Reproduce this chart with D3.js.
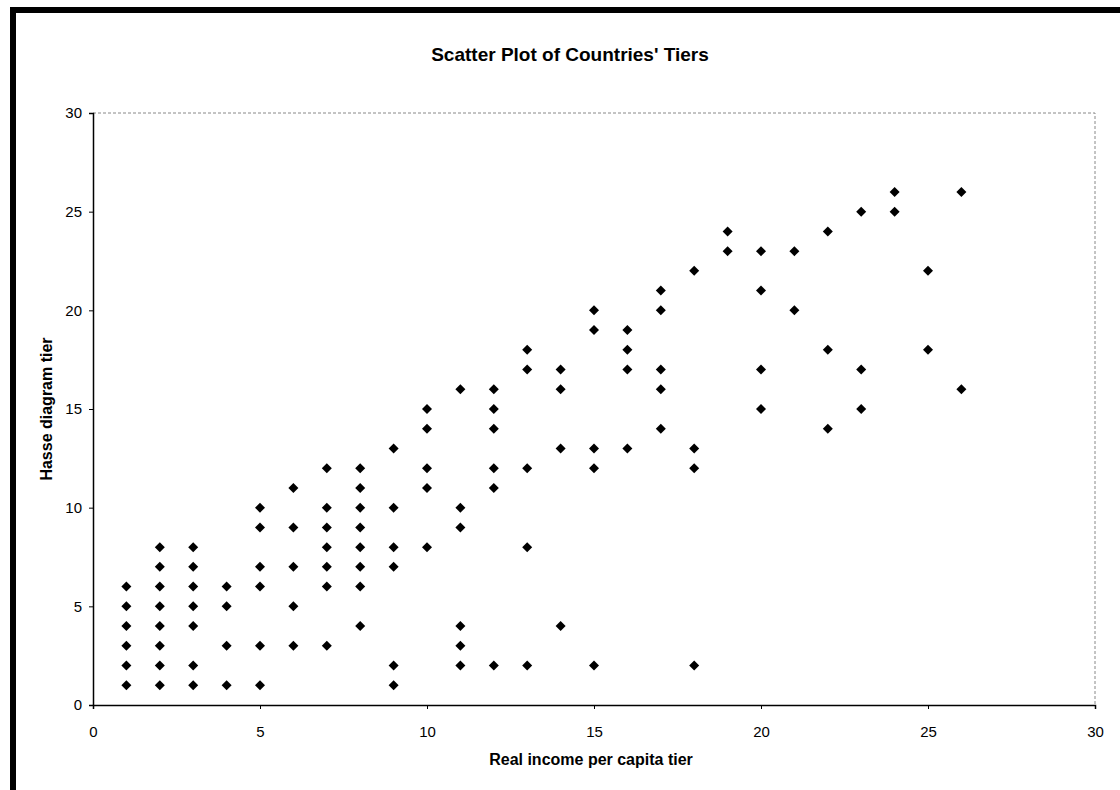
<!DOCTYPE html>
<html>
<head>
<meta charset="utf-8">
<script src="https://cdn.jsdelivr.net/npm/d3@7"></script>
<style>
  body { margin: 0; background: #fff; }
  svg { display: block; }
</style>
</head>
<body>
<svg width="1120" height="790"></svg>
<script>
// chart data (x = income tier, y = Hasse tier)
var incomeTier = [
  1, 1, 1, 1, 1, 1,
  2, 2, 2, 2, 2, 2, 2, 2,
  3, 3, 3, 3, 3, 3, 3,
  4, 4, 4, 4,
  5, 5, 5, 5, 5, 5,
  6, 6, 6, 6, 6,
  7, 7, 7, 7, 7, 7, 7,
  8, 8, 8, 8, 8, 8, 8, 8,
  9, 9, 9, 9, 9, 9,
  10, 10, 10, 10, 10,
  11, 11, 11, 11, 11, 11,
  12, 12, 12, 12, 12, 12,
  13, 13, 13, 13, 13,
  14, 14, 14, 14,
  15, 15, 15, 15, 15,
  16, 16, 16, 16,
  17, 17, 17, 17, 17,
  18, 18, 18, 18,
  19, 19,
  20, 20, 20, 20,
  21, 21,
  22, 22, 22,
  23, 23, 23,
  24, 24,
  25, 25,
  26, 26
];
var hasseTier = [
  1, 2, 3, 4, 5, 6,
  1, 2, 3, 4, 5, 6, 7, 8,
  1, 2, 4, 5, 6, 7, 8,
  1, 3, 5, 6,
  1, 3, 6, 7, 9, 10,
  3, 5, 7, 9, 11,
  3, 6, 7, 8, 9, 10, 12,
  4, 6, 7, 8, 9, 10, 11, 12,
  1, 2, 7, 8, 10, 13,
  8, 11, 12, 14, 15,
  2, 3, 4, 9, 10, 16,
  2, 11, 12, 14, 15, 16,
  2, 8, 12, 17, 18,
  4, 13, 16, 17,
  2, 12, 13, 19, 20,
  13, 17, 18, 19,
  14, 16, 17, 20, 21,
  2, 12, 13, 22,
  23, 24,
  15, 17, 21, 23,
  20, 23,
  14, 18, 24,
  15, 17, 25,
  25, 26,
  18, 22,
  16, 26
];
var xTicks = [0, 5, 10, 15, 20, 25, 30];
var yTicks = [0, 5, 10, 15, 20, 25, 30];

var points = incomeTier.map(function(v, i) { return {x: v, y: hasseTier[i]}; });

var plot = {left: 93, top: 113, right: 1095, bottom: 705};
var svg = d3.select("svg");

// thick outer frame (runs off the right and bottom edge)
svg.append("rect")
  .attr("x", 13)
  .attr("y", 10)
  .attr("width", 1200)
  .attr("height", 900)
  .attr("fill", "none")
  .attr("stroke", "#000")
  .attr("stroke-width", 6);

var x = d3.scaleLinear().domain([0, 30]).range([plot.left, plot.right]);
var y = d3.scaleLinear().domain([0, 30]).range([plot.bottom, plot.top]);

// faint dashed top and right edges of plot area
svg.append("path")
  .attr("d", "M" + plot.left + "," + plot.top + "H" + plot.right + "V" + plot.bottom)
  .attr("fill", "none")
  .attr("stroke", "#888")
  .attr("stroke-width", 1)
  .attr("stroke-dasharray", "3,2");

var font = "Arial, 'Liberation Sans', sans-serif";

var xAxis = svg.append("g")
  .attr("transform", "translate(0," + plot.bottom + ")")
  .call(d3.axisBottom(x).tickValues(xTicks).tickSize(4).tickPadding(17));
var yAxis = svg.append("g")
  .attr("transform", "translate(" + plot.left + ",0)")
  .call(d3.axisLeft(y).tickValues(yTicks).tickSize(4).tickPadding(7));

[xAxis, yAxis].forEach(function(a) {
  a.select(".domain").attr("stroke", "#000").attr("stroke-width", 1.5);
  a.selectAll(".tick line").attr("stroke", "#000");
  a.selectAll("text")
    .attr("font-family", font)
    .attr("font-size", "15px")
    .attr("fill", "#000");
});

// markers
svg.append("g")
  .selectAll("path")
  .data(points)
  .enter().append("path")
  .attr("d", d3.symbol(d3.symbolSquare, 50))
  .attr("transform", function(d) {
    return "translate(" + x(d.x) + "," + y(d.y) + ") rotate(45)";
  })
  .attr("fill", "#000");

// titles
svg.append("text")
  .attr("x", 570)
  .attr("y", 61)
  .attr("text-anchor", "middle")
  .attr("font-family", font)
  .attr("font-weight", "bold")
  .attr("font-size", "19px")
  .text("Scatter Plot of Countries' Tiers");

svg.append("text")
  .attr("x", 591)
  .attr("y", 765)
  .attr("text-anchor", "middle")
  .attr("font-family", font)
  .attr("font-weight", "bold")
  .attr("font-size", "16px")
  .text("Real income per capita tier");

svg.append("text")
  .attr("transform", "translate(52," + ((plot.top + plot.bottom) / 2) + ") rotate(-90)")
  .attr("text-anchor", "middle")
  .attr("font-family", font)
  .attr("font-weight", "bold")
  .attr("font-size", "16px")
  .text("Hasse diagram tier");
</script>
</body>
</html>
